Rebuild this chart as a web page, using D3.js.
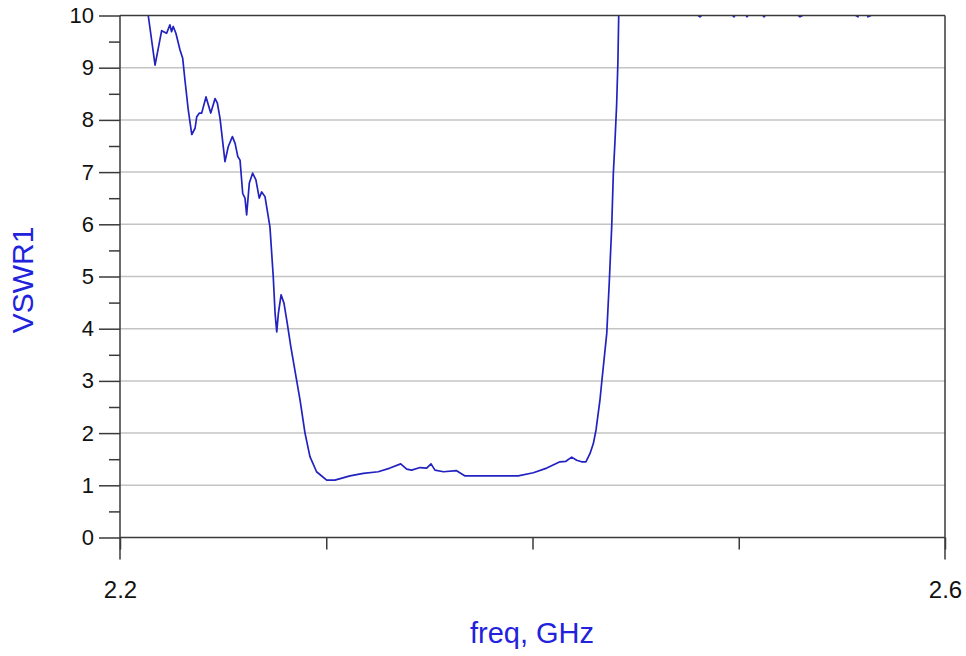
<!DOCTYPE html>
<html>
<head>
<meta charset="utf-8">
<script src="https://cdn.jsdelivr.net/npm/d3@7"></script>
<style>
  html, body { margin: 0; padding: 0; background: #fff; }
  svg { display: block; }
  text { font-family: "Liberation Sans", Arial, sans-serif; }
</style>
</head>
<body>
<svg id="chart" width="966" height="656"></svg>
<script>
// ---- data ----
const freqGHz = [
  2.2000, 2.2100, 2.2137, 2.2170, 2.2202, 2.2226, 2.2242, 2.2250, 2.2258, 2.2271,
  2.2291, 2.2304, 2.2315, 2.2331, 2.2348, 2.2364, 2.2372, 2.2385, 2.2396, 2.2417,
  2.2440, 2.2461, 2.2472, 2.2485, 2.2509, 2.2525, 2.2545, 2.2558, 2.2571, 2.2582,
  2.2595, 2.2606, 2.2614, 2.2627, 2.2643, 2.2659, 2.2675, 2.2687, 2.2703, 2.2727,
  2.2743, 2.2752, 2.2760, 2.2768, 2.2781, 2.2795, 2.2811, 2.2828, 2.2873, 2.2897,
  2.2921, 2.2953, 2.3002, 2.3042, 2.3115, 2.3180, 2.3252, 2.3309, 2.3361, 2.3390,
  2.3414, 2.3455, 2.3487, 2.3508, 2.3527, 2.3568, 2.3632, 2.3673, 2.3745, 2.3826,
  2.3931, 2.4004, 2.4069, 2.4133, 2.4162, 2.4190, 2.4214, 2.4238, 2.4259, 2.4279,
  2.4295, 2.4308, 2.4327, 2.4335, 2.4360, 2.4372, 2.4384, 2.4392, 2.4400, 2.4408,
  2.4414, 2.4418, 2.4440, 2.4600, 2.4812, 2.4900, 2.4977, 2.5010, 2.5040, 2.5080,
  2.5122, 2.5200, 2.5297, 2.5450, 2.5578, 2.5600, 2.5627, 2.5800, 2.6000
];
const vswr1 = [
  11.5, 10.6, 10.0, 9.05, 9.71, 9.66, 9.82, 9.69, 9.79, 9.66,
  9.34, 9.18, 8.76, 8.19, 7.72, 7.84, 8.06, 8.13, 8.13, 8.44,
  8.13, 8.41, 8.32, 8.03, 7.20, 7.49, 7.68, 7.55, 7.30, 7.23,
  6.59, 6.50, 6.18, 6.79, 6.98, 6.85, 6.50, 6.62, 6.53, 5.95,
  5.00, 4.29, 3.94, 4.30, 4.65, 4.49, 4.10, 3.66, 2.63, 2.00,
  1.55, 1.26, 1.10, 1.10, 1.18, 1.23, 1.26, 1.33, 1.41, 1.31,
  1.29, 1.34, 1.33, 1.41, 1.29, 1.26, 1.28, 1.18, 1.18, 1.18,
  1.18, 1.24, 1.33, 1.45, 1.46, 1.54, 1.48, 1.45, 1.45, 1.61,
  1.80, 2.06, 2.63, 2.95, 3.91, 4.87, 5.95, 6.98, 7.60, 8.30,
  9.10, 10.0, 11.5, 10.6, 9.975, 10.3, 9.975, 10.2, 9.975, 10.2,
  9.975, 10.3, 9.975, 10.3, 9.975, 10.2, 9.975, 10.3, 10.5
];
const yMajorTicks = [0, 1, 2, 3, 4, 5, 6, 7, 8, 9, 10];
const yMinorTicks = [0.5, 1.5, 2.5, 3.5, 4.5, 5.5, 6.5, 7.5, 8.5, 9.5];
const xTicks = [2.2, 2.3, 2.4, 2.5, 2.6];
const xTickLabels = ["2.2", "", "", "", "2.6"];
const xTitle = "freq, GHz";
const yTitle = "VSWR1";

// ---- layout ----
const svg = d3.select("#chart");
const mLeft = 120, mRight = 945, mTop = 15.5, mBottom = 537.5;
const x = d3.scaleLinear().domain([2.2, 2.6]).range([mLeft, mRight]);
const y = d3.scaleLinear().domain([0, 10]).range([mBottom, mTop]);
const axisColor = "#3a3a3a";
const gridColor = "#c4c4c4";
const lineColor = "#2222c0";
const titleColor = "#2222dd";

// gridlines
svg.append("g").selectAll("line")
  .data(yMajorTicks.filter(v => v > 0 && v < 10))
  .join("line")
  .attr("x1", mLeft).attr("x2", mRight)
  .attr("y1", d => y(d)).attr("y2", d => y(d))
  .attr("stroke", gridColor).attr("stroke-width", 1.5);

// clip
svg.append("clipPath").attr("id", "plotclip")
  .append("rect").attr("x", mLeft).attr("y", mTop)
  .attr("width", mRight - mLeft).attr("height", mBottom - mTop);

// curve
const pts = freqGHz.map((f, i) => [f, vswr1[i]]);
svg.append("path")
  .datum(pts)
  .attr("clip-path", "url(#plotclip)")
  .attr("fill", "none")
  .attr("stroke", lineColor)
  .attr("stroke-width", 1.7)
  .attr("stroke-linejoin", "round")
  .attr("d", d3.line().x(d => x(d[0])).y(d => y(d[1])));

// frame top/right
svg.append("line").attr("x1", mLeft).attr("x2", mRight).attr("y1", mTop).attr("y2", mTop)
  .attr("stroke", axisColor).attr("stroke-width", 1.5);
svg.append("line").attr("x1", mRight).attr("x2", mRight).attr("y1", mTop).attr("y2", mBottom + 22)
  .attr("stroke", axisColor).attr("stroke-width", 1.5);

// y axis minor
const yMinor = svg.append("g").attr("transform", `translate(${mLeft},0)`)
  .call(d3.axisLeft(y).tickValues(yMinorTicks).tickSize(11).tickFormat(""));
// y axis major
const yAxis = svg.append("g").attr("transform", `translate(${mLeft},0)`)
  .call(d3.axisLeft(y).tickValues(yMajorTicks).tickSize(21).tickPadding(5).tickFormat(d3.format("d")));
[yMinor, yAxis].forEach(g => {
  g.select(".domain").remove();
  g.selectAll(".tick line").attr("stroke", axisColor).attr("stroke-width", 1.5);
});
yAxis.selectAll(".tick text").attr("fill", "#111").attr("font-size", 22)
  .attr("font-family", "Liberation Sans, Arial, sans-serif");
svg.append("line").attr("x1", mLeft).attr("x2", mLeft).attr("y1", mTop).attr("y2", mBottom + 22)
  .attr("stroke", axisColor).attr("stroke-width", 1.5);

// x axis
const xAxis = svg.append("g").attr("transform", `translate(0,${mBottom})`)
  .call(d3.axisBottom(x).tickValues(xTicks).tickSize(12).tickPadding(31)
    .tickFormat((d, i) => xTickLabels[i]));
xAxis.select(".domain").remove();
xAxis.selectAll(".tick line").attr("stroke", axisColor).attr("stroke-width", 1.5);
xAxis.selectAll(".tick text").attr("fill", "#111").attr("font-size", 24)
  .attr("font-family", "Liberation Sans, Arial, sans-serif");
svg.append("line").attr("x1", mLeft).attr("x2", mRight).attr("y1", mBottom).attr("y2", mBottom)
  .attr("stroke", axisColor).attr("stroke-width", 1.5);

// titles
svg.append("text").attr("x", 532).attr("y", 643)
  .attr("text-anchor", "middle").attr("fill", titleColor)
  .attr("font-size", 29).text(xTitle);
svg.append("text")
  .attr("transform", "translate(33,280) rotate(-90)")
  .attr("text-anchor", "middle").attr("fill", titleColor)
  .attr("font-size", 30).text(yTitle);
</script>
</body>
</html>
